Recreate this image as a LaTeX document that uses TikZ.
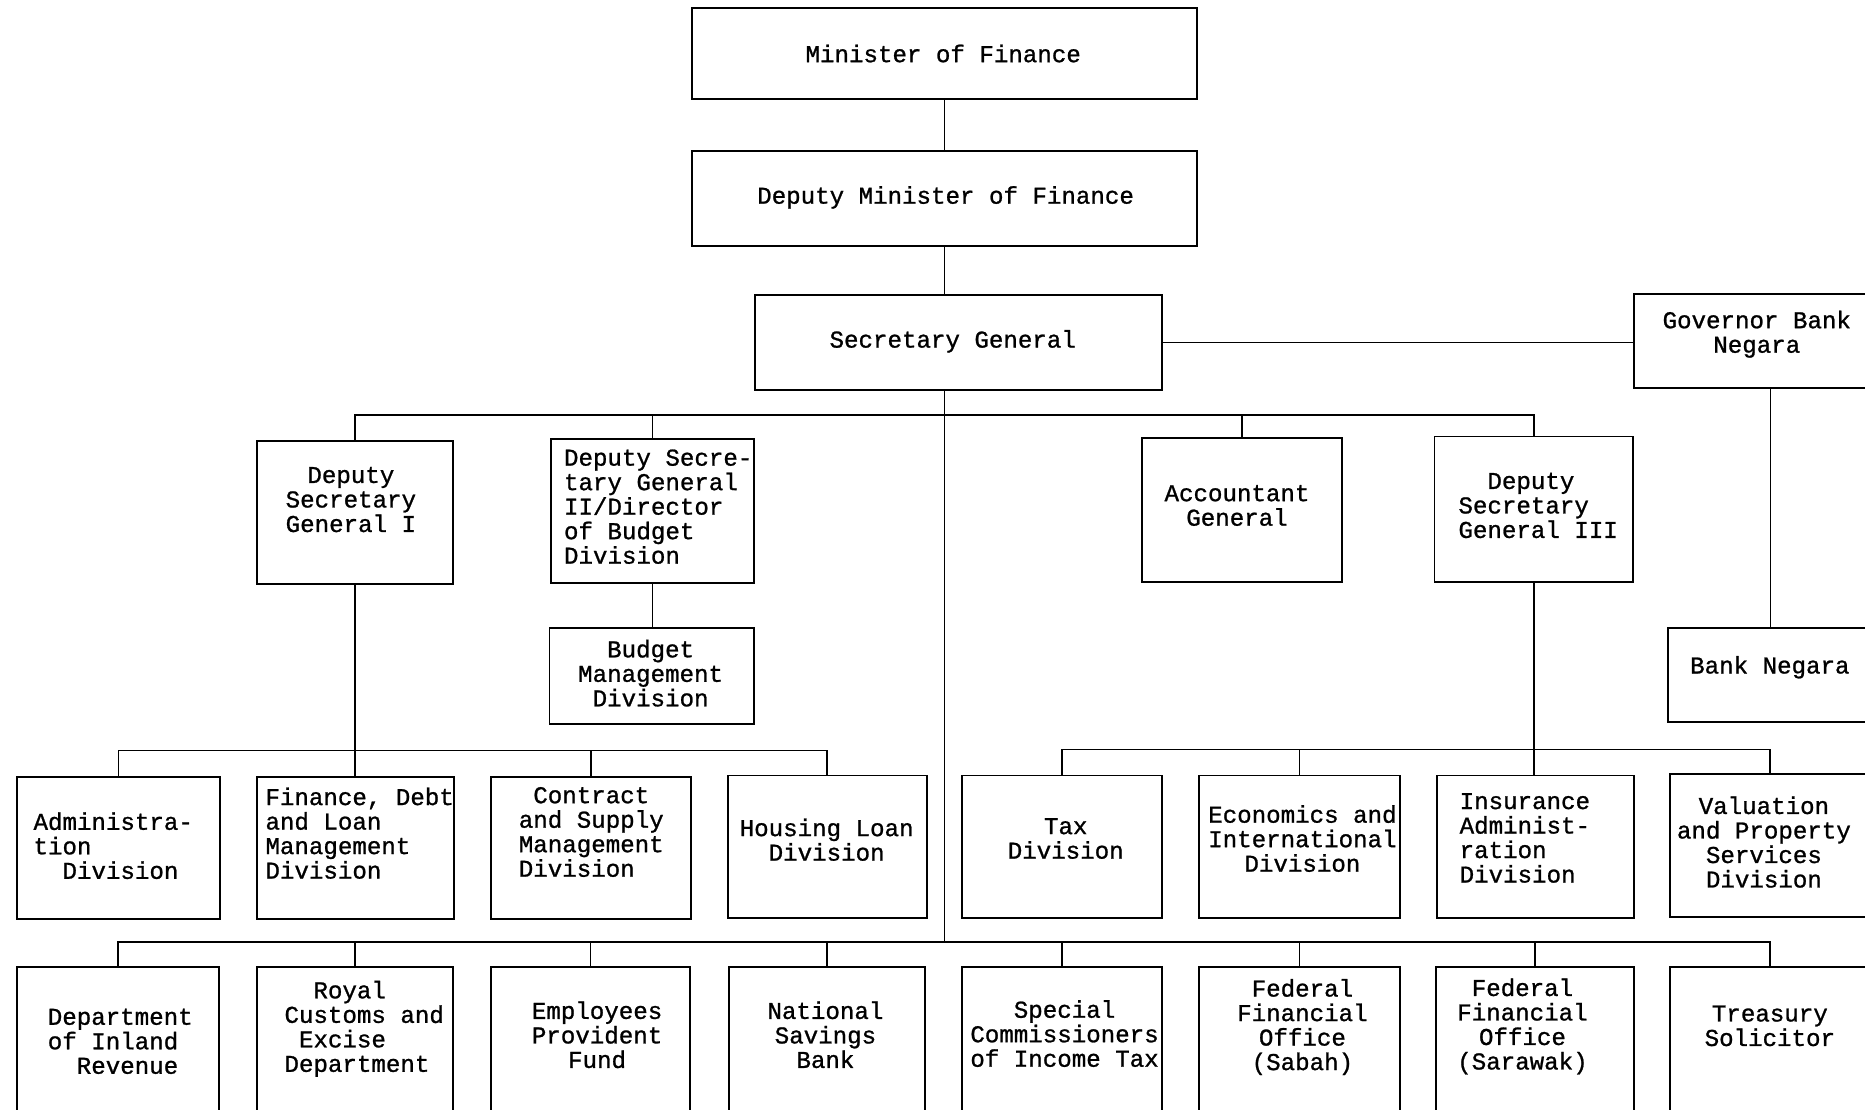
\documentclass[tikz,border=0pt]{standalone}
\usepackage{fontspec}
\newfontfamily\typefont[FakeBold=1]{Liberation Mono}
\newcommand\boxfont{\typefont\fontsize{20.3pt}{20.6pt}\selectfont}

\tikzset{
	box/.style={draw, line width=1.6pt, inner sep=0pt},
	lbl/.style={font=\boxfont, inner sep=0pt, align=center},
	lbll/.style={font=\boxfont, inner sep=0pt, align=left, anchor=west},
	link/.style={line width=1.4pt}
}

\begin{document}
\begin{tikzpicture}[x=1pt, y=-1pt]
		\useasboundingbox (0,0) rectangle (1568,933);
		\clip (0,0) rectangle (1568,933);
		% top of the chart
		\node[box, minimum width=425pt, minimum height=76pt] (min) at (794,45) {};
		\node[box, minimum width=425pt, minimum height=80pt] (dmin) at (794,167) {};
		\node[box, minimum width=342pt, minimum height=80pt] (sg) at (806,288) {};
		\node[box, minimum width=208pt, minimum height=79pt] (gov) at (1478,286.5) {};
		% second level
		\node[box, minimum width=165pt, minimum height=120pt] (dsg1) at (298.5,431) {};
		\node[box, minimum width=171pt, minimum height=121pt] (dsg2) at (548.5,429.5) {};
		\node[box, minimum width=172pt, minimum height=81pt] (budget) at (548,568.5) {};
		\node[box, minimum width=168pt, minimum height=121pt] (acc) at (1044,428.5) {};
		\node[box, minimum width=167pt, minimum height=122pt] (dsg3) at (1289.5,428) {};
		\node[box, minimum width=173pt, minimum height=79pt] (bank) at (1488.5,567.5) {};
		% divisions
		\node[box, minimum width=171pt, minimum height=120pt] (admin) at (99.5,713) {};
		\node[box, minimum width=166pt, minimum height=120pt] (fdl) at (299,713) {};
		\node[box, minimum width=168pt, minimum height=120pt] (contract) at (497,713) {};
		\node[box, minimum width=167pt, minimum height=120pt] (housing) at (695.5,712) {};
		\node[box, minimum width=168pt, minimum height=120pt] (tax) at (893,712) {};
		\node[box, minimum width=169pt, minimum height=120pt] (econ) at (1092.5,712) {};
		\node[box, minimum width=166pt, minimum height=120pt] (insur) at (1291,712) {};
		\node[box, minimum width=168pt, minimum height=120pt] (valu) at (1488,711) {};
		% departments and offices
		\node[box, minimum width=170pt, minimum height=127pt] (dir) at (99,876.5) {};
		\node[box, minimum width=165pt, minimum height=127pt] (customs) at (298.5,876.5) {};
		\node[box, minimum width=167pt, minimum height=127pt] (epf) at (496.5,876.5) {};
		\node[box, minimum width=165pt, minimum height=127pt] (nsb) at (695.5,876.5) {};
		\node[box, minimum width=168pt, minimum height=127pt] (special) at (893,876.5) {};
		\node[box, minimum width=169pt, minimum height=127pt] (sabah) at (1092.5,876.5) {};
		\node[box, minimum width=167pt, minimum height=127pt] (sarawak) at (1290.5,876.5) {};
		\node[box, minimum width=168pt, minimum height=127pt] (treasury) at (1488,876.5) {};

		% texts
		\node[lbl] at (793,45) {Minister of Finance};
		\node[lbl] at (795,166) {Deputy Minister of Finance};
		\node[lbl] at (801,287) {Secretary General};
		\node[lbl] at (1477,281) {Governor Bank\\Negara};
		\node[lbl] at (295,420) {Deputy\\Secretary\\General I};
		\node[lbll] at (474,426) {Deputy Secre-\\tary General\\II/Director\\of Budget\\Division};
		\node[lbl] at (547,566) {Budget\\Management\\Division};
		\node[lbl] at (1040,425) {Accountant\\General};
		\node[lbll] at (1226,425) {\phantom{De}Deputy\\Secretary\\General III};
		\node[lbl] at (1488,561) {Bank Negara};
		\node[lbll] at (28,711) {Administra-\\tion\\\phantom{Di}Division};
		\node[lbll] at (223,700.5) {Finance, Debt\\and Loan\\Management\\Division};
		\node[lbll] at (436,699.5) {\phantom{a}Contract\\and Supply\\Management\\Division};
		\node[lbl] at (695,706) {Housing Loan\\Division};
		\node[lbl] at (896,705) {Tax\\Division};
		\node[lbl] at (1095,705) {Economics and\\International\\Division};
		\node[lbll] at (1227,704.5) {Insurance\\Administ-\\ration\\Division};
		\node[lbl] at (1483,708) {Valuation\\and Property\\Services\\Division};
		\node[lbll] at (40,875.5) {Department\\of Inland\\\phantom{of}Revenue};
		\node[lbll] at (239,865) {\phantom{Cu}Royal\\Customs and\\\phantom{C}Excise\\Department};
		\node[lbl] at (502,870) {Employees\\Provident\\Fund};
		\node[lbl] at (694,870) {National\\Savings\\Bank};
		\node[lbl] at (895,869) {Special\\Commissioners\\of Income Tax};
		\node[lbl] at (1095,863.5) {Federal\\Financial\\Office\\(Sabah)};
		\node[lbl] at (1280,863) {Federal\\Financial\\Office\\(Sarawak)};
		\node[lbl] at (1488,862.5) {Treasury\\Solicitor};

		% lines
		\coordinate (bus1) at (794,349);
		\coordinate (bus2l) at (298.5,631);
		\coordinate (bus2r) at (1289.5,630);
		\coordinate (bus3) at (794,792);
		\draw[link] (min.south) -- (dmin.north);
		\draw[link] (dmin.south) -- (dmin.south |- sg.north);
		\draw[link] (dmin.south |- sg.south) -- (bus3);
		\draw[link] (sg.east) -- (sg.east -| gov.west);
		\draw[link] (bank.north) -- (bank.north |- gov.south);
		\draw[link] (dsg1.north) |- (bus1) -| (dsg3.north);
		\foreach \n in {dsg2,acc}
			\draw[link] (\n.north) -- (\n.north |- bus1);
		\draw[link] (dsg2.south) -- (dsg2.south |- budget.north);
		\draw[link] (dsg1.south) -- (dsg1.south |- fdl.north);
		\draw[link] (admin.north) |- (bus2l) -| (housing.north);
		\draw[link] (contract.north) -- (contract.north |- bus2l);
		\draw[link] (dsg3.south) -- (dsg3.south |- insur.north);
		\draw[link] (tax.north) |- (bus2r) -| (valu.north);
		\draw[link] (econ.north) -- (econ.north |- bus2r);
		\draw[link] (dir.north) |- (bus3) -| (treasury.north);
		\foreach \n in {customs,epf,nsb,special,sabah,sarawak}
			\draw[link] (\n.north) -- (\n.north |- bus3);
	\end{tikzpicture}
\end{document}
